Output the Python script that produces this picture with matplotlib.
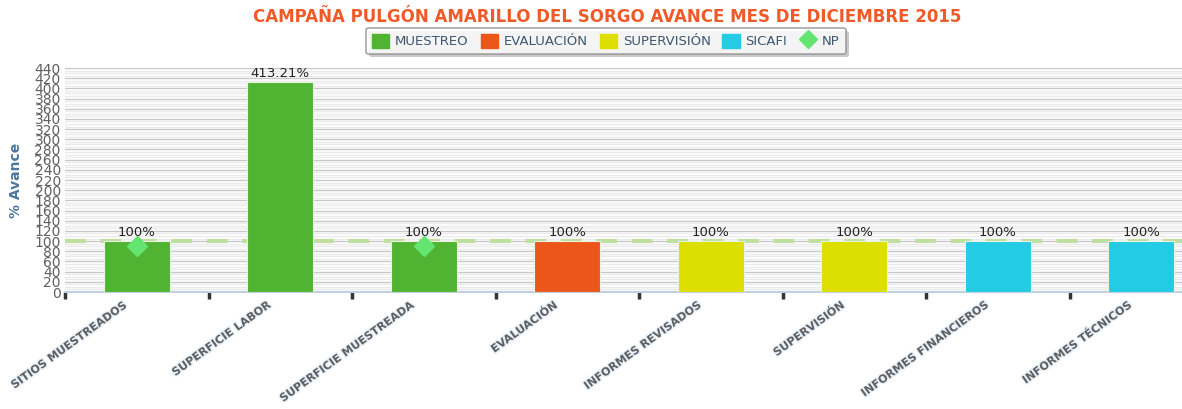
import matplotlib
matplotlib.use("Agg")
import matplotlib.pyplot as plt
from matplotlib.ticker import MultipleLocator, FixedLocator, NullFormatter
from matplotlib.patches import Patch
from matplotlib.lines import Line2D
import matplotlib.patheffects as pe
import matplotlib.transforms as mtransforms

categories = ["SITIOS MUESTREADOS", "SUPERFICIE LABOR", "SUPERFICIE MUESTREADA",
              "EVALUACIÓN", "INFORMES REVISADOS", "SUPERVISIÓN",
              "INFORMES FINANCIEROS", "INFORMES TÉCNICOS"]
values = [100, 413.21, 100, 100, 100, 100, 100, 100]
value_labels = ["100%", "413.21%", "100%", "100%", "100%", "100%", "100%", "100%"]
series_of_bar = ["MUESTREO", "MUESTREO", "MUESTREO", "EVALUACIÓN",
                 "SUPERVISIÓN", "SUPERVISIÓN", "SICAFI", "SICAFI"]
series_names = ["MUESTREO", "EVALUACIÓN", "SUPERVISIÓN", "SICAFI"]
series_colors = {"MUESTREO": "#50B432", "EVALUACIÓN": "#ED561B",
                 "SUPERVISIÓN": "#DDDF00", "SICAFI": "#24CBE5"}
np_idx = [0, 2]
np_values = [90, 90]
np_color = "#64E572"
target = 100

fig = plt.figure(figsize=(11.82, 4.09), dpi=100)
ax = fig.add_axes([65/1182, (409-292)/409, 1148/1182, 224/409])

x = list(range(len(categories)))
colors = [series_colors[s] for s in series_of_bar]
ax.bar(x, values, width=0.46, color=colors, edgecolor="#e8f4e0", linewidth=0.8, zorder=3)

for xi, v, lab in zip(x, values, value_labels):
    ax.text(xi, v + 4, lab, ha="center", va="bottom", fontsize=9.5, color="#222222", zorder=5)

ax.plot(np_idx, np_values, linestyle="none", marker="D", markersize=10, color=np_color, zorder=4)

ax.axhline(target, color="#bfe0a0", linestyle=(0, (5, 3.5)), linewidth=3, zorder=2.5)

ax.set_xlim(-0.5, len(categories) - 0.5)
ax.set_ylim(0, 440)

ax.yaxis.set_major_locator(MultipleLocator(20))
ax.yaxis.set_minor_locator(MultipleLocator(5))
ax.grid(axis="y", which="major", color="#c8c8c8", linewidth=1.0, zorder=0)
ax.grid(axis="y", which="minor", color="#ebebeb", linewidth=1.0, zorder=0)
ax.set_axisbelow(True)

ax.tick_params(axis="y", which="both", length=0, pad=3, labelsize=10, labelcolor="#606060",
               labelfontfamily="Liberation Sans Narrow")

ax.xaxis.set_major_locator(FixedLocator([i - 0.5 for i in range(len(categories) + 1)]))
ax.xaxis.set_major_formatter(NullFormatter())
ax.xaxis.set_minor_locator(FixedLocator(x))
ax.set_xticklabels(categories, minor=True)
ax.tick_params(axis="x", which="major", length=5, width=2.5, color="#333333", direction="out")
ax.tick_params(axis="x", which="minor", length=0, pad=6)
offset = mtransforms.ScaledTranslation(-14/100, 0, fig.dpi_scale_trans)
for t in ax.get_xticklabels(minor=True):
    t.set_rotation(36)
    t.set_ha("right")
    t.set_va("top")
    t.set_rotation_mode("anchor")
    t.set_fontsize(8)
    t.set_fontweight("bold")
    t.set_color("#606060")
    t.set_transform(t.get_transform() + offset)
    t.set_path_effects([pe.withStroke(linewidth=2, foreground="#e6f0fa")])

for s in ["left", "right", "top"]:
    ax.spines[s].set_visible(False)
ax.spines["bottom"].set_color("#c0d0e0")
ax.spines["bottom"].set_linewidth(1.5)
ax.set_facecolor("white")

fig.text(16/1182, 1 - 180/409, "% Avance", rotation=90, ha="center", va="center",
         fontsize=10, fontweight="bold", color="#4d759e")

fig.text(607/1182, 1 - 17/409, "CAMPAÑA PULGÓN AMARILLO DEL SORGO AVANCE MES DE DICIEMBRE 2015",
         ha="center", va="center", fontsize=12, fontweight="bold", color="#EE5A28")

handles = [Patch(facecolor=series_colors[s], edgecolor=series_colors[s], label=s) for s in series_names]
handles.append(Line2D([], [], linestyle="none", marker="D", markersize=9, color=np_color, label="NP"))
leg = fig.legend(handles=handles, loc="center", bbox_to_anchor=(606/1182, 1 - 41/409), ncol=5,
                 frameon=True, fontsize=9.5, handlelength=1.3, handleheight=1.3, handletextpad=0.45,
                 columnspacing=0.9, borderpad=0.45, fancybox=True, shadow=False)
leg.get_frame().set_edgecolor("#909090")
leg.get_frame().set_linewidth(1.2)
leg.get_frame().set_path_effects([pe.SimplePatchShadow(offset=(2, -2), alpha=0.3), pe.Normal()])
for t in leg.get_texts():
    t.set_color("#3e576f")

fig.savefig("out.png", dpi=100)
